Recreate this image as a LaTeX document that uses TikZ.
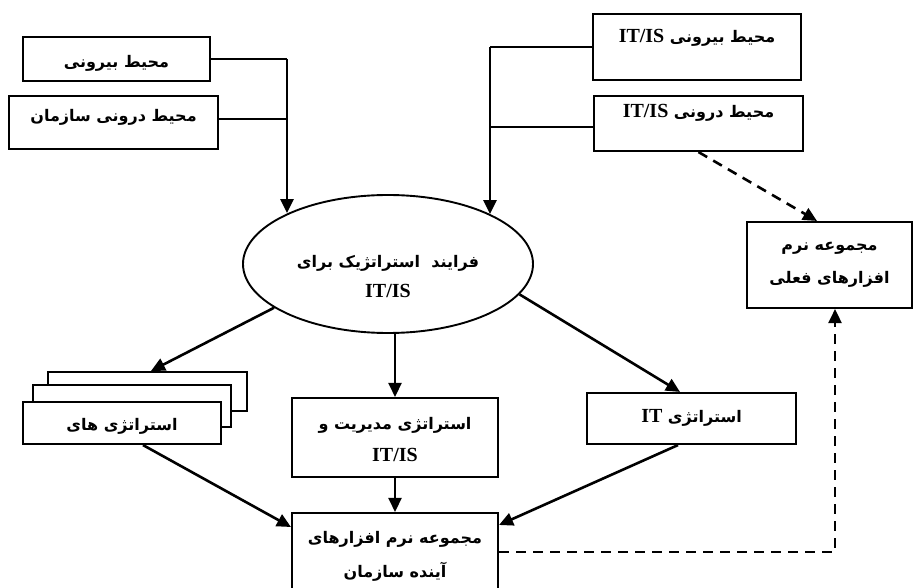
\documentclass[tikz,border=0pt]{standalone}
\usepackage{fontspec}
\usetikzlibrary{arrows.meta,shapes.geometric}
\TeXXeTstate=1
\newfontfamily\fafont[Script=Arabic]{DejaVu Sans}
\newfontfamily\latfont{Liberation Serif}
\newcommand\fa[1]{{\fafont\bfseries\beginR #1\endR}}
\newcommand\lt[1]{{\latfont\bfseries\fontsize{20}{22}\selectfont #1}}
\newcommand\falt[2]{{\fafont\bfseries\beginR #1 \beginL\lt{#2}\endL\endR}}
\begin{document}
\begin{tikzpicture}[x=1pt,y=-1pt,
  boxst/.style={draw, line width=2.1pt, fill=white, inner sep=0pt},
  txt/.style={inner sep=0pt, font=\fontsize{16}{19}\selectfont},
  ln/.style={line width=2.6pt},
  arr/.style={ln, -{Triangle[length=14pt,width=13pt]}},
  dsh/.style={arr, dash pattern=on 10pt off 7pt}]
\clip (0,0) rectangle (914,588);
\fill[white] (0,0) rectangle (914,588);

% top-left inputs
\node[boxst, minimum width=187pt, minimum height=44pt] (b1) at (116.5,59) {};
\node[txt] at (116.5,63) {\fa{محیط بیرونی}};
\node[boxst, minimum width=209pt, minimum height=53pt] (b2) at (113.5,122.5) {};
\node[txt] at (113.5,117) {\fa{محیط درونی سازمان}};

% top-right inputs
\node[boxst, minimum width=208pt, minimum height=66pt] (b3) at (697,47) {};
\node[txt] at (697,38) {\falt{محیط بیرونی}{IT/IS}};
\node[boxst, minimum width=209pt, minimum height=55pt] (b4) at (698.5,123.5) {};
\node[txt] at (698.5,113) {\falt{محیط درونی}{IT/IS}};

% central process
\node[draw, ellipse, line width=1.9pt, minimum width=290pt, minimum height=138pt, inner sep=0pt] (e) at (388,264) {};
\node[txt] (e1) at (388,263) {\fa{فرایند\ \ استراتژیک برای}};
\node[txt] (e2) at (388,291) {\lt{IT/IS}};

% current software
\node[boxst, minimum width=165pt, minimum height=86pt] (b5) at (829.5,265) {};
\node[txt] at (829.5,248) {\fa{مجموعه نرم}};
\node[txt] at (829.5,279) {\fa{افزارهای فعلی}};

% stacked strategies
\node[boxst, minimum width=199pt, minimum height=39pt] (s3) at (147.5,391.5) {};
\node[boxst, minimum width=198pt, minimum height=42pt] (s2) at (132,406) {};
\node[boxst, minimum width=198pt, minimum height=42pt] (s1) at (122,423) {};
\node[txt] at (122,426) {\fa{استراتژی های}};

% management strategy
\node[boxst, minimum width=206pt, minimum height=79pt] (m) at (395,437.5) {};
\node[txt] at (395,425) {\fa{استراتژی مدیریت و}};
\node[txt] at (395,455) {\lt{IT/IS}};

% IT strategy
\node[boxst, minimum width=209pt, minimum height=51pt] (it) at (691.5,418.5) {};
\node[txt] at (691.5,418) {\falt{استراتژی}{IT}};

% future software
\node[boxst, minimum width=206pt, minimum height=87pt] (f) at (395,556.5) {};
\node[txt] at (395,539) {\fa{مجموعه نرم افزارهای}};
\node[txt] at (395,572) {\fa{آینده سازمان}};

% junctions
\coordinate (j1) at (287,59);
\coordinate (j2) at (490,47);

% connectors into the process
\draw[ln] (b1.east |- j1) -- (j1);
\draw[ln] (b2.east |- 0,119) -- (j1 |- 0,119);
\draw[arr] (j1) -- (j1 |- e.153.9);
\draw[ln] (b3.west |- j2) -- (j2);
\draw[ln] (b4.west |- 0,127) -- (j2 |- 0,127);
\draw[arr] (j2) -- (j2 |- e.26.1);

% outputs of the process
\draw[arr] (e.201.7) -- ([xshift=3.5pt]s3.north);
\draw[arr] (e.south -| m.north) -- (m.north);
\draw[arr] (e.-13.4) -- ([xshift=-11.5pt]it.north);

% into future software
\draw[arr] (m.south) -- (f.north);
\draw[arr] ([xshift=21pt]s1.south) -- ([yshift=29.5pt]f.west);
\draw[arr] ([xshift=-13.5pt]it.south) -- ([yshift=31.5pt]f.east);

% dashed links to current software
\draw[dsh] (b4.south) -- ([xshift=-12.5pt]b5.north);
\draw[dsh] ([yshift=4.5pt]f.east) -| ([xshift=5.5pt]b5.south);
\end{tikzpicture}
\end{document}
